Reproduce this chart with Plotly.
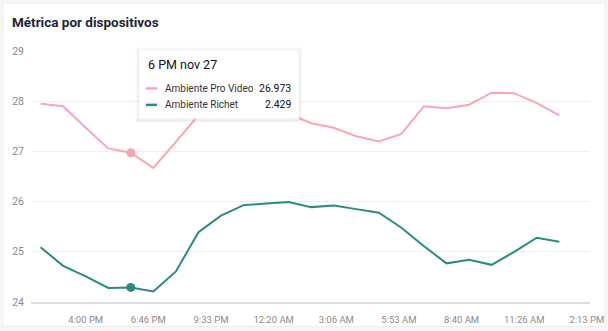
import plotly.graph_objects as go

# ---- data ----
times = [
    "2023-11-27 14:00", "2023-11-27 15:00", "2023-11-27 16:00", "2023-11-27 17:00",
    "2023-11-27 18:00", "2023-11-27 19:00", "2023-11-27 20:00", "2023-11-27 21:00",
    "2023-11-27 22:00", "2023-11-27 23:00", "2023-11-28 00:00", "2023-11-28 01:00",
    "2023-11-28 02:00", "2023-11-28 03:00", "2023-11-28 04:00", "2023-11-28 05:00",
    "2023-11-28 06:00", "2023-11-28 07:00", "2023-11-28 08:00", "2023-11-28 09:00",
    "2023-11-28 10:00", "2023-11-28 11:00", "2023-11-28 12:00", "2023-11-28 13:00",
]
pro_video = [27.95, 27.90, 27.47, 27.06, 26.973, 26.67, 27.19, 27.72,
             28.05, 28.15, 28.05, 27.75, 27.56, 27.47, 27.30, 27.20,
             27.35, 27.90, 27.86, 27.93, 28.17, 28.16, 27.96, 27.72]
richet = [25.09, 24.72, 24.51, 24.28, 24.29, 24.21, 24.61, 25.39,
          25.72, 25.93, 25.96, 25.99, 25.89, 25.92, 25.85, 25.78,
          25.48, 25.11, 24.77, 24.84, 24.74, 25.00, 25.28, 25.20]
series_names = ["Ambiente Pro Video", "Ambiente Richet"]
hover_index = 4
hover_title = "6 PM nov 27"
hover_values = ["26.973", "2.429"]

tick_vals = ["2023-11-27 16:00:00", "2023-11-27 18:46:40", "2023-11-27 21:33:20",
             "2023-11-28 00:20:00", "2023-11-28 03:06:40", "2023-11-28 05:53:20",
             "2023-11-28 08:40:00", "2023-11-28 11:26:40", "2023-11-28 14:13:20"]
tick_text = ["4:00 PM", "6:46 PM", "9:33 PM", "12:20 AM", "3:06 AM",
             "5:53 AM", "8:40 AM", "11:26 AM", "2:13 PM"]
y_ticks = [24, 25, 26, 27, 28, 29]
title = "Métrica por dispositivos"

colors = ["#fda4b4", "#2a8c80"]

# ---- layout geometry ----
W, H = 608, 331
ML, MR, MT, MB = 31, 18, 50, 28.5
PW, PH = W - ML - MR, H - MT - MB


def px(x):
    return (x - ML) / PW


def py(y):
    return 1 - (y - MT) / PH


fig = go.Figure()
for name, vals, col in zip(series_names, [pro_video, richet], colors):
    fig.add_trace(go.Scatter(x=times, y=vals, mode="lines", name=name,
                             line=dict(color=col, width=2), hoverinfo="skip"))
    fig.add_trace(go.Scatter(x=[times[hover_index]], y=[vals[hover_index]], mode="markers",
                             marker=dict(color=col, size=9), showlegend=False,
                             hoverinfo="skip"))

shapes = []
# card background
shapes.append(dict(type="rect", xref="paper", yref="paper", layer="below",
                   x0=px(3), x1=px(605), y0=py(327), y1=py(3),
                   fillcolor="white", line=dict(color="#ededed", width=1)))
# tooltip shadow + box
for off, op in [(4, 0.01), (3, 0.015), (2, 0.02), (1, 0.03)]:
    shapes.append(dict(type="rect", xref="paper", yref="paper", layer="above",
                       x0=px(139 - off), x1=px(299 + off), y0=py(119 + off + 1), y1=py(50 - off + 1),
                       fillcolor=f"rgba(0,0,0,{op})", line=dict(width=0)))
shapes.append(dict(type="rect", xref="paper", yref="paper", layer="above",
                   x0=px(139), x1=px(299), y0=py(119), y1=py(50),
                   fillcolor="white", line=dict(color="#f3f3f3", width=1)))
for i, col in enumerate(colors):
    yy = 88.5 + i * 16.5
    shapes.append(dict(type="line", xref="paper", yref="paper", layer="above",
                       x0=px(146), x1=px(157), y0=py(yy), y1=py(yy),
                       line=dict(color=col, width=2.5)))

annotations = [
    dict(text=f"<b>{title}</b>", xref="paper", yref="paper", x=px(10), y=py(22),
         xanchor="left", yanchor="middle", showarrow=False,
         font=dict(family="Roboto", size=13.5, color="#1d2636")),
    dict(text=hover_title, xref="paper", yref="paper", x=px(146), y=py(65),
         xanchor="left", yanchor="middle", showarrow=False,
         font=dict(family="Roboto", size=12.5, color="#111111")),
]
for i, (name, v) in enumerate(zip(series_names, hover_values)):
    yy = 88.5 + i * 16.5
    annotations.append(dict(text=name, xref="paper", yref="paper", x=px(163), y=py(yy),
                            xanchor="left", yanchor="middle", showarrow=False,
                            font=dict(family="Roboto", size=10, color="#333333")))
    annotations.append(dict(text=v, xref="paper", yref="paper", x=px(293), y=py(yy),
                            xanchor="right", yanchor="middle", showarrow=False,
                            font=dict(family="Roboto", size=10.5, color="#111111")))

fig.update_layout(
    width=W, height=H,
    margin=dict(l=ML, r=MR, t=MT, b=MB, pad=0, autoexpand=False),
    paper_bgcolor="#f6f6f6", plot_bgcolor="rgba(0,0,0,0)",
    showlegend=False, hovermode=False,
    shapes=shapes, annotations=annotations,
    xaxis=dict(range=["2023-11-27 13:34:30", "2023-11-28 14:21:40"],
               tickvals=tick_vals, ticktext=tick_text, showgrid=False,
               showline=True, linecolor="#dddddd", linewidth=2,
               ticks="", ticklabelstandoff=8, zeroline=False, automargin=False,
               tickfont=dict(family="Roboto", size=9.5, color="#8a8a8a")),
    yaxis=dict(range=[24, 29.02], tickvals=y_ticks, showgrid=True,
               gridcolor="#efefef", gridwidth=1, zeroline=False, showline=False,
               ticks="", ticklabelstandoff=6, automargin=False,
               tickfont=dict(family="Roboto", size=10.5, color="#8a8a8a")),
)

fig.write_html("out.html")
